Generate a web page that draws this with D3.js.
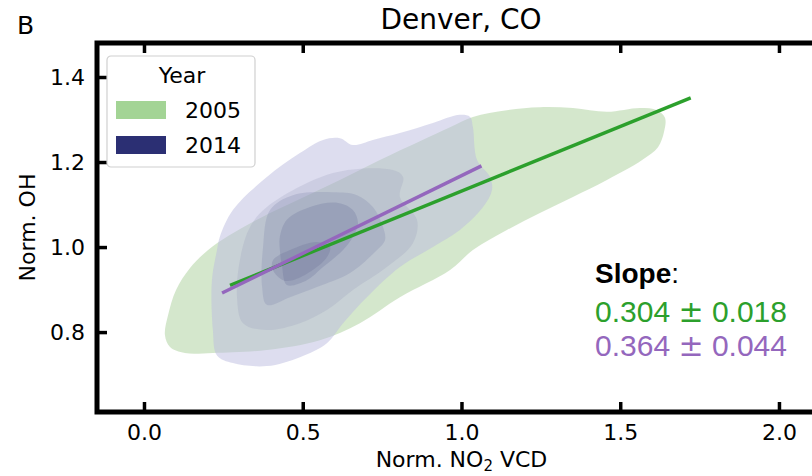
<!DOCTYPE html>
<html>
<head>
<meta charset="utf-8">
<script src="https://cdn.jsdelivr.net/npm/d3@7"></script>
<style>
  body { margin: 0; background: #fff; }
  text { font-family: "DejaVu Sans", sans-serif; fill: #000; }
</style>
</head>
<body>
<div id="chart"></div>
<script>
// ---- data --------------------------------------------------------------
const xTicks = [0.0, 0.5, 1.0, 1.5, 2.0];
const yTicks = [0.8, 1.0, 1.2, 1.4];
const years = ['2005', '2014'];
const yearColors = ['#a3d495', '#2b2f73'];

// KDE contour outlines, [NO2, OH] in data units
const green2005Outer = [
  [0.066, 0.793], [0.076, 0.840], [0.101, 0.899], [0.145, 0.951], [0.202, 0.993],
  [0.265, 1.026], [0.365, 1.068], [0.491, 1.113], [0.617, 1.158], [0.743, 1.205],
  [0.869, 1.249], [0.964, 1.282], [1.036, 1.306], [1.143, 1.322], [1.247, 1.329],
  [1.351, 1.327], [1.458, 1.318], [1.562, 1.327], [1.616, 1.322], [1.641, 1.304],
  [1.638, 1.271], [1.619, 1.235], [1.569, 1.205], [1.458, 1.158], [1.351, 1.118],
  [1.247, 1.080], [1.143, 1.040], [1.036, 0.993], [0.964, 0.946], [0.806, 0.882],
  [0.680, 0.821], [0.554, 0.781], [0.387, 0.758], [0.217, 0.751], [0.129, 0.751],
  [0.082, 0.765]
];
const blue2014L1 = [
  [0.239, 1.024], [0.280, 1.087], [0.387, 1.165], [0.491, 1.221], [0.564, 1.252],
  [0.617, 1.256], [0.658, 1.240], [0.721, 1.252], [0.806, 1.268], [0.910, 1.292],
  [0.995, 1.311], [1.027, 1.306], [1.036, 1.282], [1.049, 1.205], [1.090, 1.165],
  [1.096, 1.134], [1.068, 1.094], [0.995, 1.040], [0.910, 1.000], [0.806, 0.953],
  [0.702, 0.882], [0.627, 0.821], [0.576, 0.774], [0.491, 0.741], [0.387, 0.720],
  [0.280, 0.727], [0.230, 0.745], [0.217, 0.805], [0.214, 0.922], [0.230, 0.993]
];
const blue2014L2 = [
  [0.334, 1.047], [0.387, 1.094], [0.595, 1.174], [0.784, 1.181], [0.816, 1.165],
  [0.806, 1.118], [0.860, 1.064], [0.847, 1.009], [0.765, 0.953], [0.658, 0.899],
  [0.576, 0.852], [0.491, 0.821], [0.387, 0.805], [0.312, 0.821], [0.293, 0.882],
  [0.302, 0.969]
];
const blue2014L3 = [
  [0.375, 1.000], [0.397, 1.087], [0.469, 1.122], [0.595, 1.129], [0.671, 1.122],
  [0.721, 1.094], [0.753, 1.047], [0.759, 1.016], [0.734, 0.993], [0.649, 0.939],
  [0.545, 0.906], [0.460, 0.882], [0.387, 0.864], [0.372, 0.906]
];
const blue2014L4 = [
  [0.428, 1.024], [0.450, 1.064], [0.523, 1.094], [0.608, 1.104], [0.658, 1.087],
  [0.674, 1.056], [0.658, 1.024], [0.627, 0.993], [0.564, 0.953], [0.513, 0.922],
  [0.450, 0.911], [0.435, 0.953], [0.428, 0.993]
];
const blue2014L5 = [
  [0.406, 0.969], [0.460, 0.993], [0.545, 1.012], [0.586, 1.000], [0.576, 0.976],
  [0.532, 0.946], [0.469, 0.922], [0.438, 0.922], [0.406, 0.946]
];

// regression lines: endpoints [NO2, OH]
const fit2005 = [[0.271, 0.910], [1.722, 1.351]];
const fit2014 = [[0.246, 0.892], [1.063, 1.191]];
const slopeValues = [['0.304', '0.018'], ['0.364', '0.044']];
const slopeColors = ['#2ca02c', '#9467bd'];

// ---- layout --------------------------------------------------------------
const W = 812, H = 476;
const margin = { top: 43, right: -13, bottom: 64, left: 97 };
const width = W - margin.left - margin.right;
const height = H - margin.top - margin.bottom;

const svg = d3.select('#chart').append('svg')
  .attr('width', W)
  .attr('height', H);

const g = svg.append('g').attr('transform', `translate(${margin.left},${margin.top})`);

const x = d3.scaleLinear().domain([-0.148, 2.145]).range([0, width]);
const y = d3.scaleLinear().domain([0.612, 1.48]).range([height, 0]);

// contours
const shape = d3.line()
  .x(d => x(d[0]))
  .y(d => y(d[1]))
  .curve(d3.curveCatmullRomClosed.alpha(0.5));

const layers = [
  { pts: green2005Outer, fill: '#a9d09a', op: 0.5 },
  { pts: blue2014L1, fill: '#bbbbe0', op: 0.5 },
  { pts: blue2014L2, fill: '#9096b8', op: 0.22 },
  { pts: blue2014L3, fill: '#7c82aa', op: 0.26 },
  { pts: blue2014L4, fill: '#6c729c', op: 0.28 },
  { pts: blue2014L5, fill: '#60668f', op: 0.22 }
];

g.selectAll('.kde')
  .data(layers)
  .join('path')
  .attr('class', 'kde')
  .attr('d', d => shape(d.pts))
  .attr('fill', d => d.fill)
  .attr('fill-opacity', d => d.op)
  .attr('stroke', 'none');

// fit lines
const fitLine = d3.line().x(d => x(d[0])).y(d => y(d[1]));
g.selectAll('.fit')
  .data([fit2005, fit2014])
  .join('path')
  .attr('class', 'fit')
  .attr('d', fitLine)
  .attr('fill', 'none')
  .attr('stroke', (d, i) => slopeColors[i])
  .attr('stroke-width', 3.4)
  .attr('stroke-linecap', 'butt');

// axes: inward ticks on bottom, left, top
const styleAxis = sel => {
  sel.select('.domain').remove();
  sel.selectAll('.tick line').attr('stroke', '#000').attr('stroke-width', 3.5);
  sel.selectAll('.tick text').attr('font-size', 22).attr('font-family', '"DejaVu Sans", sans-serif');
};

g.append('g')
  .attr('transform', `translate(0,${height})`)
  .call(d3.axisBottom(x).tickValues(xTicks).tickFormat(d3.format('.1f')).tickSize(-10).tickPadding(12))
  .call(styleAxis);

g.append('g')
  .call(d3.axisLeft(y).tickValues(yTicks).tickFormat(d3.format('.1f')).tickSize(-10).tickPadding(12))
  .call(styleAxis);

g.append('g')
  .call(d3.axisTop(x).tickValues(xTicks).tickFormat('').tickSize(-10))
  .call(styleAxis);

// spines
g.append('rect')
  .attr('x', 0).attr('y', 0)
  .attr('width', width).attr('height', height)
  .attr('fill', 'none')
  .attr('stroke', '#000')
  .attr('stroke-width', 5);

// titles
svg.append('text')
  .attr('x', margin.left + width / 2)
  .attr('y', 29)
  .attr('text-anchor', 'middle')
  .attr('font-size', 28)
  .text('Denver, CO');

svg.append('text')
  .attr('x', 17)
  .attr('y', 34)
  .attr('font-size', 25)
  .text('B');

svg.append('text')
  .attr('transform', `translate(35,${margin.top + height / 2}) rotate(-90)`)
  .attr('text-anchor', 'middle')
  .attr('font-size', 22)
  .text('Norm. OH');

const xl = svg.append('text')
  .attr('x', margin.left + x(1.0))
  .attr('y', 467)
  .attr('text-anchor', 'middle')
  .attr('font-size', 22);
xl.append('tspan').text('Norm. NO');
xl.append('tspan').attr('font-size', 15).attr('dy', 4).text('2');
xl.append('tspan').attr('dy', -4).text(' VCD');

// legend
const lg = svg.append('g').attr('transform', 'translate(107,56)');
lg.append('rect')
  .attr('width', 148).attr('height', 111)
  .attr('rx', 4)
  .attr('fill', '#fff').attr('fill-opacity', 0.8)
  .attr('stroke', '#d0d0d0').attr('stroke-width', 1.2);
lg.append('text')
  .attr('x', 75).attr('y', 27)
  .attr('text-anchor', 'middle')
  .attr('font-size', 22)
  .text('Year');
const items = lg.selectAll('.item')
  .data(years)
  .join('g')
  .attr('class', 'item')
  .attr('transform', (d, i) => `translate(9,${45 + i * 35})`);
items.append('rect')
  .attr('width', 50).attr('height', 18)
  .attr('fill', (d, i) => yearColors[i]);
items.append('text')
  .attr('x', 69).attr('y', 17)
  .attr('font-size', 22)
  .text(d => d);

// slope annotation
const sans = '"Liberation Sans", Arial, sans-serif';
const s0 = svg.append('text').attr('x', 595).attr('y', 283).attr('font-size', 28)
  .style('font-family', sans);
s0.append('tspan').attr('font-weight', 'bold').text('Slope');
s0.append('tspan').text(':');

const sl = svg.selectAll('.sl')
  .data(slopeValues)
  .join('text')
  .attr('class', 'sl')
  .attr('x', 595)
  .attr('y', (d, i) => 322 + i * 34)
  .attr('font-size', 30)
  .style('font-family', sans)
  .style('fill', (d, i) => slopeColors[i]);
sl.append('tspan').text(d => d[0] + ' ');
sl.append('tspan').style('font-family', '"DejaVu Sans", sans-serif').attr('font-size', 30).text('\u00b1');
sl.append('tspan').text(d => ' ' + d[1]);
</script>
</body>
</html>
